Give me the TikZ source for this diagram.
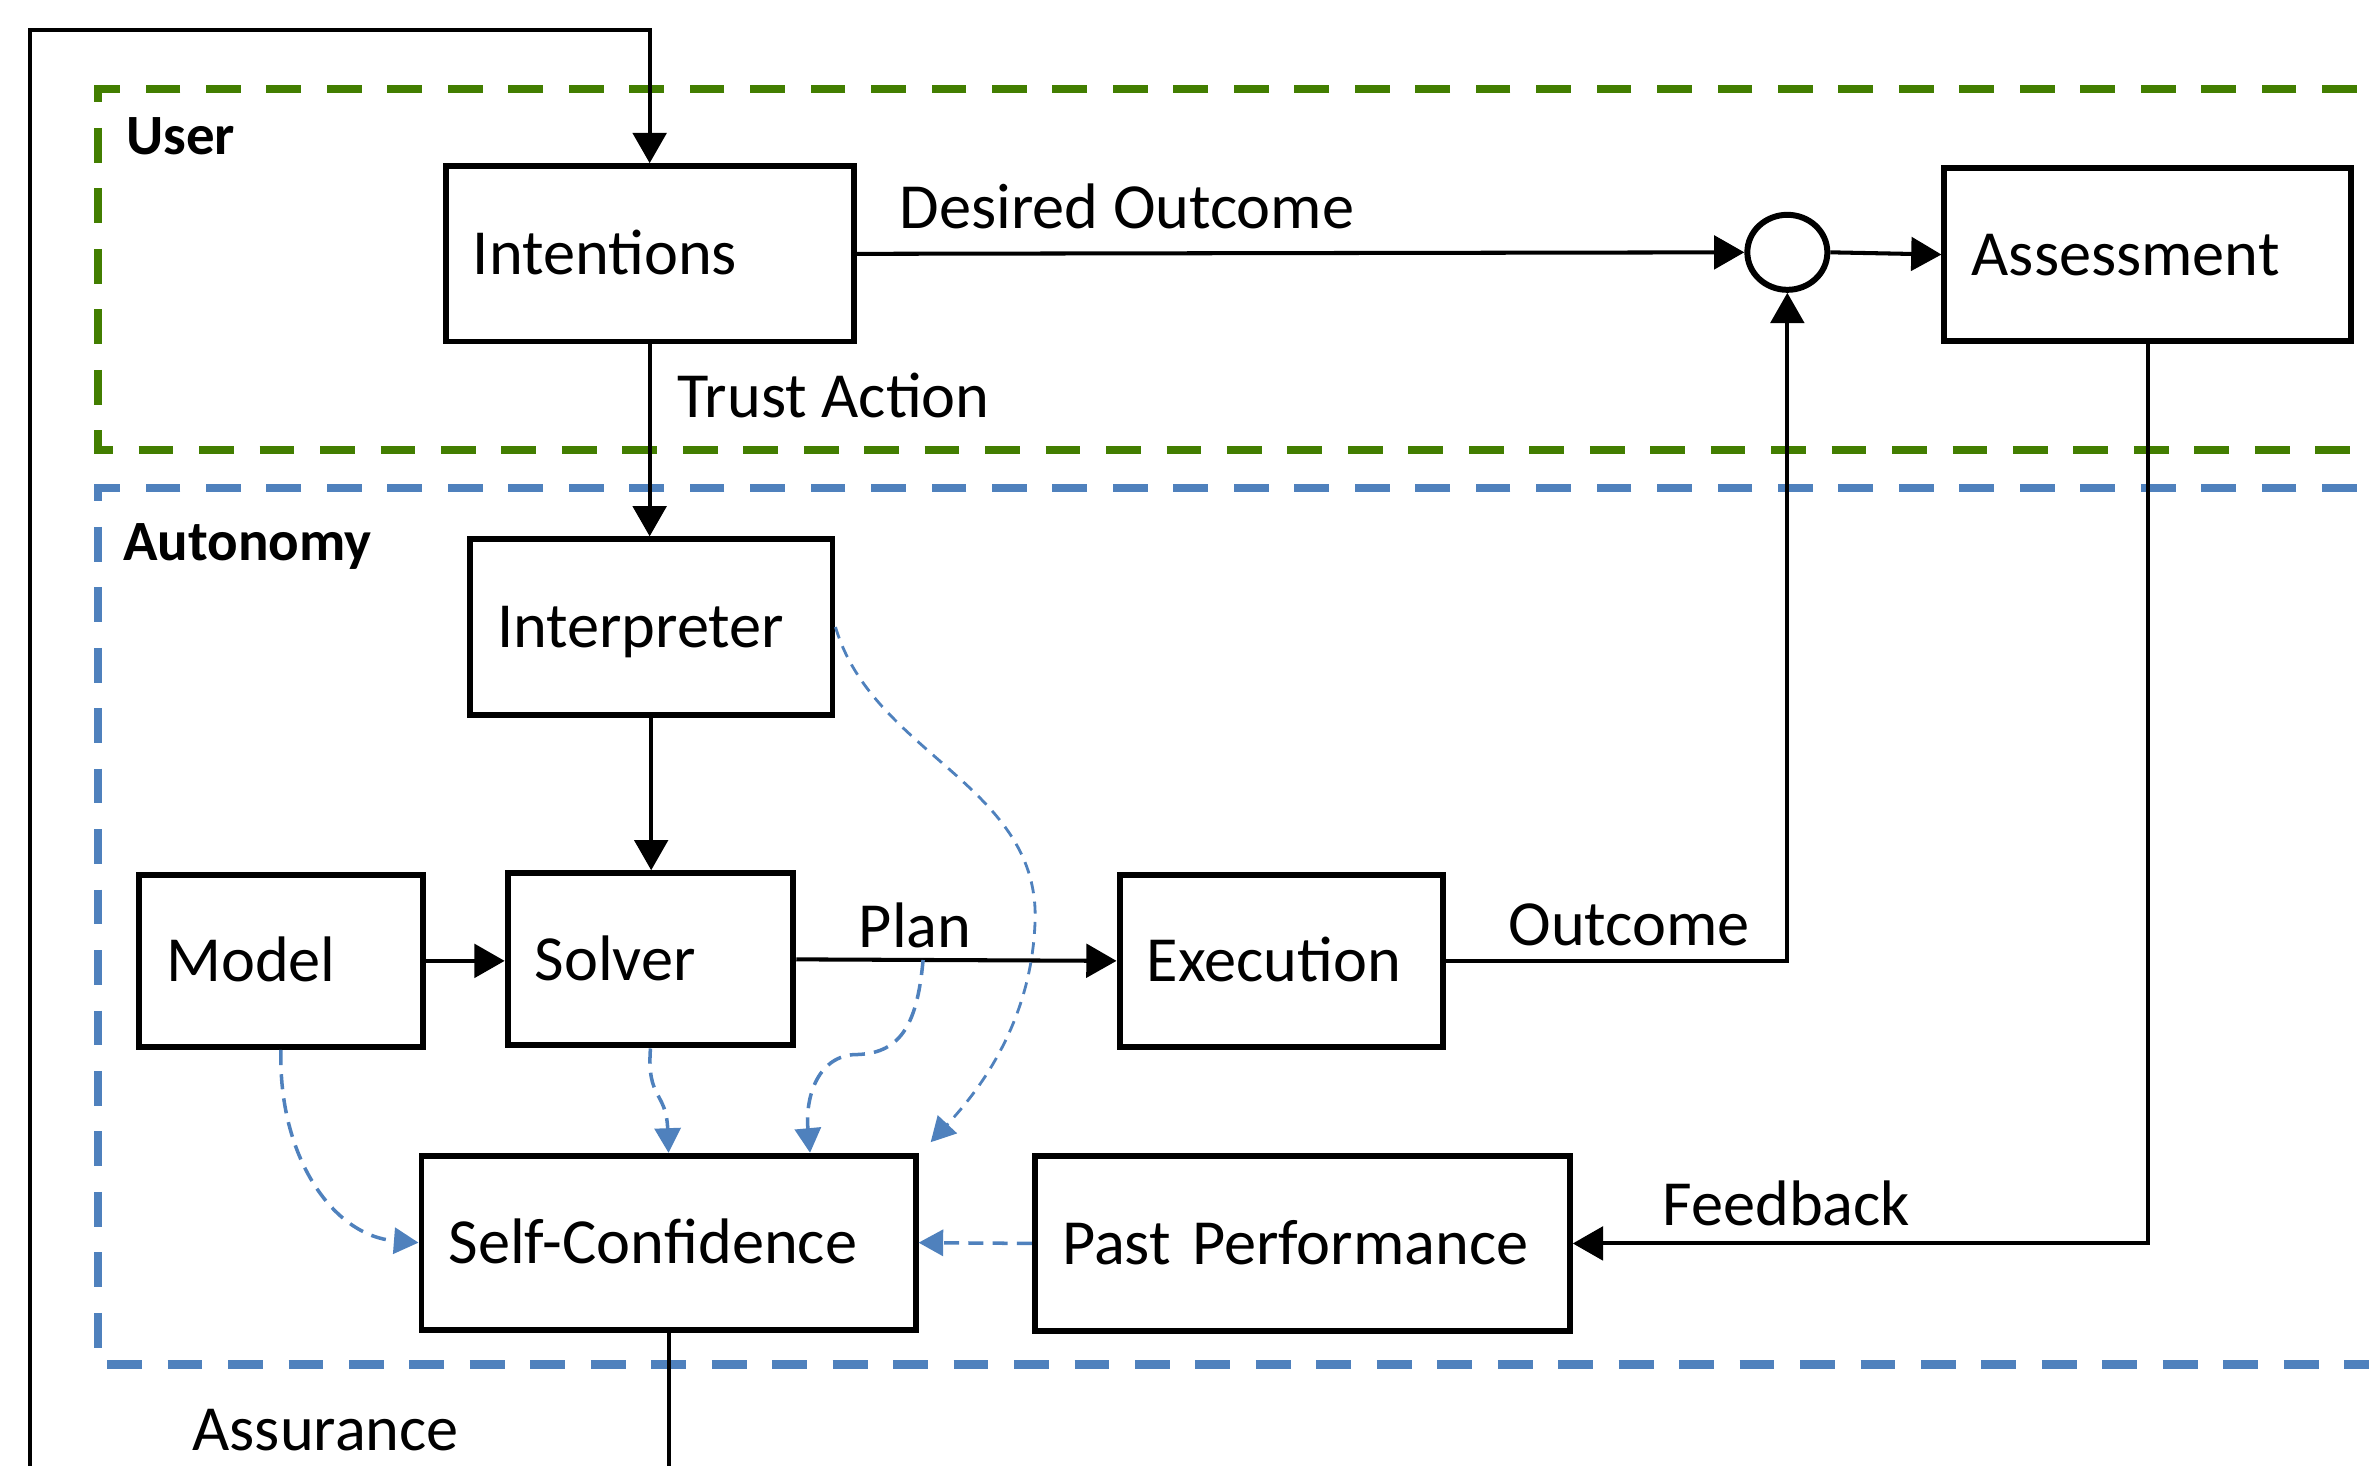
\documentclass[tikz,border=0pt]{standalone}
\usepackage{fontspec}
\setmainfont{Carlito}
\usetikzlibrary{arrows.meta,calc,shapes.geometric}
\definecolor{usergreen}{RGB}{66,126,0}
\definecolor{autoblue}{RGB}{79,129,189}

\begin{document}
\begin{tikzpicture}[x=0.015108cm,y=-0.015108cm,
  txt/.style={font=\fontsize{18.3}{20}\selectfont},
  box/.style={txt, draw, line width=1.7pt, rectangle, inner xsep=0.272cm, inner ysep=0pt,
    align=left, text height=11.8pt, text depth=0pt, anchor=north west},
  lbl/.style={txt, inner sep=0pt, anchor=base west},
  region/.style={font=\bfseries\fontsize{16.2}{18}\selectfont, inner sep=0pt, anchor=base west},
  bound/.style={line width=2.4pt, dash pattern=on 9.9pt off 7.3pt},
  flow/.style={line width=1.15pt, -{Triangle[length=8.6pt,width=9.5pt]}},
  conf/.style={draw=autoblue, line width=1pt, dash pattern=on 4.3pt off 2.6pt,
    -{Triangle[length=7pt,width=7.4pt]}},
  confthin/.style={conf, line width=0.8pt, dash pattern=on 3.4pt off 2.4pt}]

\useasboundingbox (0,0) rectangle (1568,970);
\clip (0,0) rectangle (1568,970);

% region boundaries (open to the right)
\draw[bound, draw=usergreen] (1600,59) -- (65,59) -- (65,298) -- (1600,298);
\draw[bound, draw=autoblue] (1600,323) -- (65,323) -- (65,903) -- (1600,903);
\node[region] (userlbl) at (83,102) {User};
\node[region] (autolbl) at (81,371) {Autonomy};

% blocks
\node[box, text width=3.535cm, minimum height=1.753cm] (int)    at (293,108)  {Intentions};
\node[box, text width=3.520cm, minimum height=1.737cm] (ass)    at (1285,109) {Assessment};
\node[box, text width=3.082cm, minimum height=1.753cm] (interp) at (309,355)  {Interpreter};
\node[box, text width=2.296cm, minimum height=1.722cm] (model)  at (90,577)   {Model};
\node[box, text width=2.312cm, minimum height=1.722cm] (solver) at (334,576)  {Solver};
\node[box, text width=2.689cm, minimum height=1.722cm] (exec)   at (739,577)  {Execution};
\node[box, text width=4.396cm, minimum height=1.737cm] (self)   at (277,763)  {Self-Confidence};
\node[box, text width=4.804cm, minimum height=1.753cm] (past)   at (683,763)  {Past Performance};
\node[draw, ellipse, line width=1.7pt, inner sep=0pt,
      minimum width=0.80cm, minimum height=0.75cm] (sum) at (1183,167) {};

% solid signal flow
\draw[flow] (int.east) -- (sum.west);
\draw[flow] (sum.east) -- (ass.west);
\draw[flow] (int.south) -- (int.south |- interp.north);
\draw[flow] (interp.south) -- (interp.south |- solver.north);
\draw[flow] (model.east) -- (solver.west |- model.east);
\draw[flow] (solver.east) -- (exec.west);
\draw[flow] (exec.east) -| (sum.south);
\draw[flow] (ass.south) |- (past.east);

% assurance loop back to the user
\coordinate (loopbot) at (20,1000);
\coordinate (looptop) at (20,20);
\draw[flow] (self.south) -- (self.south |- loopbot) -| (looptop) -| (int.north);

% edge labels
\node[lbl] (desired) at (595,151) {Desired Outcome};
\node[lbl] (trust)   at (448,276) {Trust Action};
\node[lbl] (plan)    at (568,627) {Plan};
\node[lbl] (outc)    at (998,626) {Outcome};
\node[lbl] (fb)      at (1100,811) {Feedback};
\node[lbl] (assur)   at (127,960) {Assurance};

% contributions to self-confidence
\coordinate (planpt) at ($(solver.east)!0.396!(exec.west)$);
\draw[conf] (model.south) .. controls (184,765) and (220,818) .. (self.west);
\draw[conf] (solver.south) .. controls (428,728) and (441,722) .. (self.north);
\draw[conf] (planpt) .. controls (607,680) and (595,698) .. (565,698)
                     .. controls (540,700) and (533,728) .. ($(self.north west)!0.783!(self.north east)$);
\draw[confthin] (interp.east) .. controls (578,500) and (690,520) .. (685,612)
                     .. controls (682,680) and (645,725) .. ($(self.north east)+(8,-7)$);
\draw[conf] (past.west) -- (self.east);

\end{tikzpicture}
\end{document}
